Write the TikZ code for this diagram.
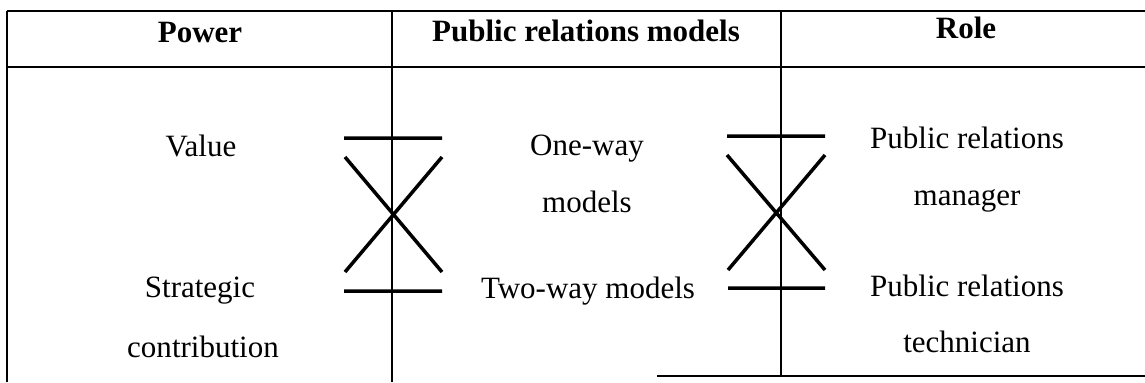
\documentclass[tikz,border=0pt]{standalone}
\usepackage{fontspec}
\setmainfont{Liberation Serif}
\usepackage{tikz}
\tikzset{
grid/.style={line width=0.8pt}, % the rules of the table
link/.style={line width=1.4pt}, % the lines that join the rows
cell/.style={anchor=base, inner sep=0pt, font=\fontsize{12.4}{15}\selectfont}, % text of a cell, placed by its baseline
head/.style={cell, font=\fontsize{12.4}{15}\selectfont\bfseries}, % the header row
}

\begin{document}
\begin{tikzpicture}[x=0.4pt, y=-0.4pt]
            \useasboundingbox (0,0) rectangle (1145,382);
            % table
            \draw[grid] (7,11) -- (1145,11);
            \draw[grid] (7,67) -- (1145,67);
            \draw[grid] (7,11) -- (7,382);
            \draw[grid] (392,11) -- (392,382);
            \draw[grid] (781,11) -- (781,376) (657,376) -- (1145,376);
            % header
            \node[head] (pw) at (200,42) {Power};
            \node[head] (prm) at (586,41) {Public relations models};
            \node[head] (rl) at (966,38) {Role};
            % cells
            \node[cell] (val) at (201,156) {Value};
            \node[cell] (sc1) at (200,297) {Strategic};
            \node[cell] (sc2) at (203,357) {contribution};
            \node[cell] (ow1) at (587,155) {One-way};
            \node[cell] (ow2) at (587,212) {models};
            \node[cell] (tw) at (588,298) {Two-way models};
            \node[cell] (mg1) at (967,148) {Public relations};
            \node[cell] (mg2) at (967,205) {manager};
            \node[cell] (te1) at (967,296) {Public relations};
            \node[cell] (te2) at (967,352) {technician};
            % ends of the linking lines
            \coordinate (l1) at (344,138); \coordinate (r1) at (442,138);
            \coordinate (l2) at (345,157); \coordinate (r2) at (442,157);
            \coordinate (l3) at (345,272); \coordinate (r3) at (442,272);
            \coordinate (l4) at (344,291); \coordinate (r4) at (442,291);
            \coordinate (m1) at (727,136); \coordinate (n1) at (825,136);
            \coordinate (m2) at (727,155); \coordinate (n2) at (825,155);
            \coordinate (m3) at (728,270); \coordinate (n3) at (825,270);
            \coordinate (m4) at (728,288); \coordinate (n4) at (825,288);
            \draw[link]
                (l1) -- (r1)
                (l2) -- (r3)
                (r2) -- (l3)
                (l4) -- (r4)
                (m1) -- (n1)
                (m2) -- (n3)
                (n2) -- (m3)
                (m4) -- (n4)
                ;
            \end{tikzpicture}
\end{document}
